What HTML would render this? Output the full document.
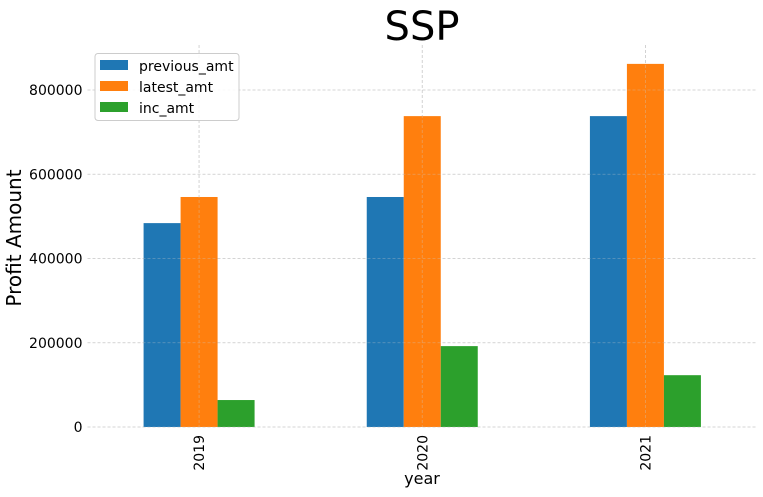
<!DOCTYPE html>
<html><head><meta charset="utf-8"><style>
body{margin:0;background:#fff;width:763px;height:492px;overflow:hidden}
text{font-family:"DejaVu Sans","Liberation Sans",sans-serif}
</style></head><body>
<svg id="chart" width="763" height="492" xmlns="http://www.w3.org/2000/svg">
<text x="422" y="40" text-anchor="middle" font-size="40" fill="#000">SSP</text>
<g id="grid"></g><g id="bars"></g><g id="grid2" opacity="0.4"></g><g id="axes"></g>
<text x="21" y="238" text-anchor="middle" font-size="20" transform="rotate(-90 21 238)">Profit Amount</text>
<text x="422" y="484" text-anchor="middle" font-size="16">year</text>
<g>
<rect x="95" y="53.5" width="144" height="67" rx="3" fill="#fff" fill-opacity="0.85" stroke="#ccc"/>
<rect x="100" y="60" width="28" height="10" fill="#1f77b4"/><text x="139" y="71" font-size="14">previous_amt</text>
<rect x="100" y="81" width="28" height="10" fill="#ff7f0e"/><text x="139" y="92" font-size="14">latest_amt</text>
<rect x="100" y="102" width="28" height="10" fill="#2ca02c"/><text x="139" y="113" font-size="14">inc_amt</text>
</g>
</svg>
<script>
const categories=["2019","2020","2021"];
const previousAmt=[484000,546000,738000];
const latestAmt=[546000,738000,862000];
const incAmt=[64000,192000,123000];
const yTicks=[0,200000,400000,600000,800000];
const seriesColors=["#1f77b4","#ff7f0e","#2ca02c"];
(function(){
const NS="http://www.w3.org/2000/svg";
const pl=87.5,pr=757,pt=45,pb=427;
const step=(pr-pl)/categories.length;
const xc=i=>pl+step*(i+0.5);
const y=v=>pb-v*(337/800000);
const bw=37;
function mk(t,a,p){const e=document.createElementNS(NS,t);for(const k in a)e.setAttribute(k,a[k]);p.appendChild(e);return e;}
const bars=document.getElementById('bars'),axes=document.getElementById('axes');
['grid','grid2'].forEach(gid=>{
 const g=document.getElementById(gid);
 yTicks.forEach(v=>{
  const l=mk('line',{x1:pl,x2:pr,y1:y(v),y2:y(v),stroke:'#ccc','stroke-width':0.8,'stroke-dasharray':'3,2'},g);
  
  
 });
 categories.forEach((c,i)=>{
  const l=mk('line',{x1:xc(i),x2:xc(i),y1:pt,y2:pb,stroke:'#ccc','stroke-width':0.8,'stroke-dasharray':'3,2'},g);
  
  
 });
});
yTicks.forEach(v=>{
 const t=mk('text',{x:pl-5,y:y(v)+5,'text-anchor':'end','font-size':14},axes);t.textContent=v;
 
 
});
categories.forEach((c,i)=>{
 const t=mk('text',{x:0,y:0,'text-anchor':'end','font-size':14,transform:`translate(${xc(i)+5},${pb+8}) rotate(-90)`},axes);t.textContent=c;
 
 
});
[previousAmt,latestAmt,incAmt].forEach((s,k)=>{
 s.forEach((v,i)=>{
  const x=xc(i)+(k-1.5)*bw;
  const r=mk('rect',{x:x,y:y(v),width:bw,height:pb-y(v),fill:seriesColors[k]},bars);
  
  
 });
});
})();
</script>
</body></html>
